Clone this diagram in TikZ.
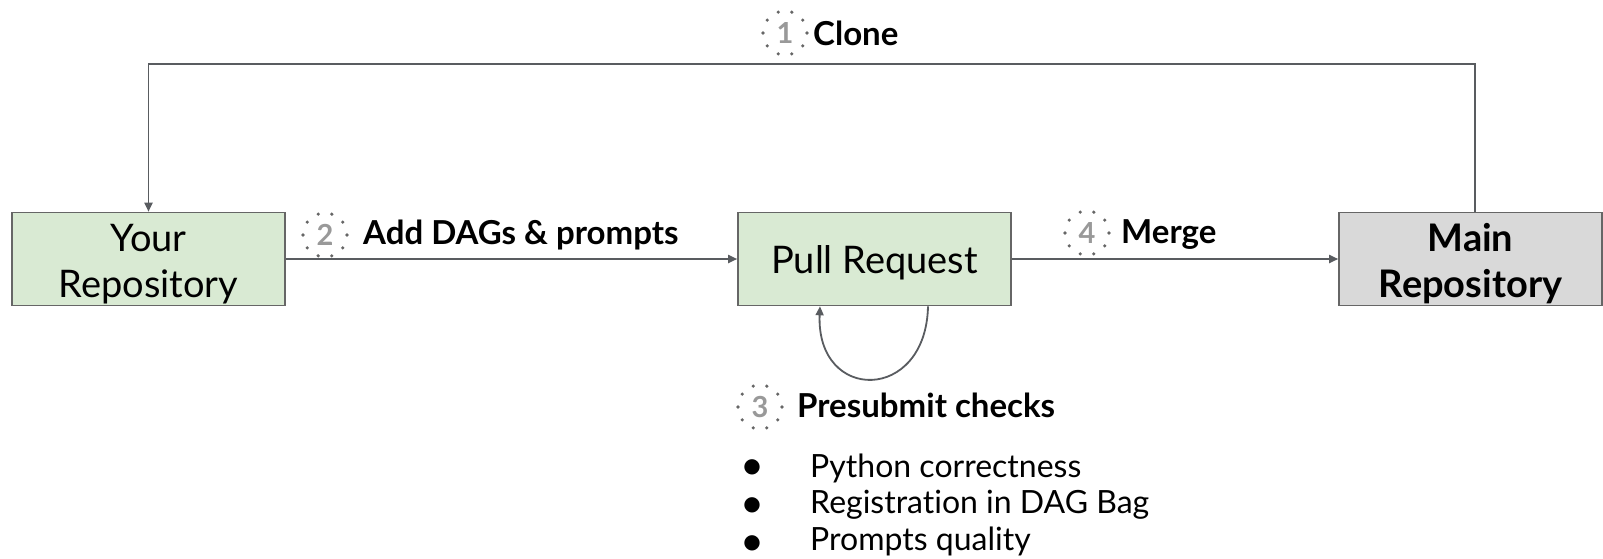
\documentclass[tikz,border=0pt]{standalone}
\usepackage{fontspec}
\setmainfont{Lato}[Ligatures=NoCommon]
\newfontfamily\djv{DejaVu Sans}
\usetikzlibrary{arrows.meta,calc}
\definecolor{linec}{HTML}{595C60}
\definecolor{boxline}{HTML}{666666}
\definecolor{greenfill}{HTML}{D9EAD3}
\definecolor{greyfill}{HTML}{D9D9D9}
\definecolor{dotc}{HTML}{666666}
\definecolor{numc}{HTML}{999999}
\begin{document}
\begin{tikzpicture}[x=1pt,y=-1pt,
  box/.style={draw=boxline, line width=1.6pt, rectangle, inner sep=0pt, minimum height=93pt},
  boxtext/.style={inner sep=0pt, align=center, font=\fontsize{38}{46}\selectfont},
  conn/.style={draw=linec, line width=1.8pt, -{Triangle[length=9pt,width=8pt]}},
  stepnum/.style={circle, minimum size=44pt, inner sep=0pt, draw=dotc, line width=3.6pt, dash pattern=on 0pt off 13.8pt, line cap=round, text=numc, font=\bfseries\fontsize{29}{30}\selectfont},
  lab/.style={anchor=base west, inner sep=0pt, font=\bfseries\fontsize{33}{35}\selectfont},
  item/.style={anchor=base west, inner sep=0pt, font=\fontsize{32}{36}\selectfont},
  bul/.style={inner sep=0pt, font=\djv\fontsize{20}{22}\selectfont}
]
\useasboundingbox (0,0) rectangle (1603,558);
\node[box, fill=greenfill, minimum width=273pt] (your) at (148.5,259) {};
\node[boxtext] (yourt) at ($(your.center)+(0,5)$) {Your\\Repository};
\node[box, fill=greenfill, minimum width=273pt] (pr) at (874.5,259) {};
\node[boxtext] (prt) at ($(pr.center)+(0,4)$) {Pull Request};
\node[box, fill=greyfill, minimum width=263pt] (main) at (1470.5,259) {};
\node[boxtext, font=\bfseries\fontsize{38}{46}\selectfont] (maint) at ($(main.center)+(0,5)$) {Main\\Repository};

\coordinate (tr) at (1475,64);
\draw[conn] (main.north -| tr) -- (tr) -- (your.north |- tr) -- (your.north);
\draw[conn] (your.east) -- (pr.west);
\draw[conn] (pr.east) -- (main.west);
\coordinate (loopa) at (928,305);
\coordinate (loopb) at (820,305);
\draw[conn] (pr.south -| loopa) .. controls (926,403) and (816,403) .. (pr.south -| loopb);

\node[stepnum] (n1) at (785,33) {1};
\node[lab] (l1) at (813,45) {Clone};
\node[stepnum] (n2) at (325,235) {2};
\node[lab] (l2) at (363,244) {Add DAGs \& prompts};
\node[stepnum] (n4) at (1087,233) {4};
\node[lab] (l4) at (1121,243) {Merge};
\node[stepnum] (n3) at (760,407) {3};
\node[lab] (l3) at (797,417) {Presubmit checks};

\node[bul] (b1) at (752,467) {●};
\node[item] (t1) at (810,477) {Python correctness};
\node[bul] (b2) at (752,505) {●};
\node[item] (t2) at (810,513) {Registration in DAG Bag};
\node[bul] (b3) at (752,543) {●};
\node[item] (t3) at (810,550) {Prompts quality};
\end{tikzpicture}
\end{document}
